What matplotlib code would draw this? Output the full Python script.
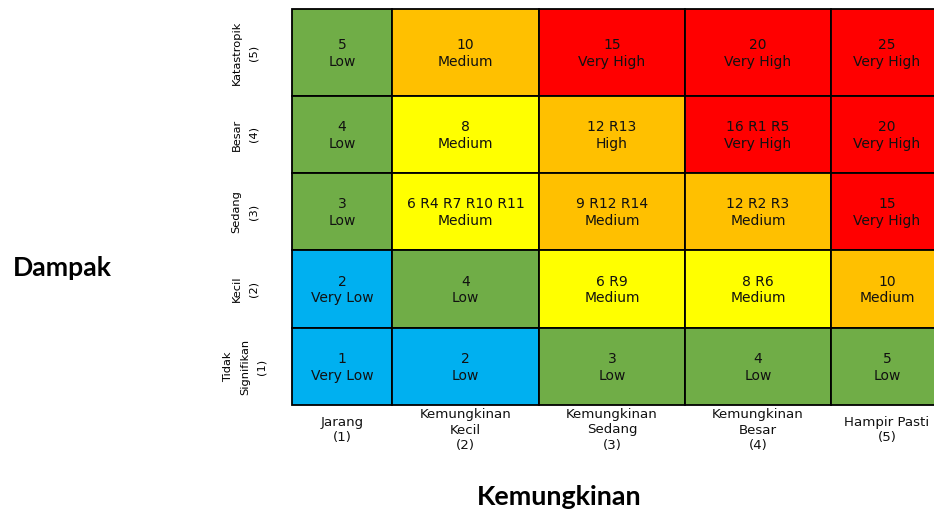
import matplotlib
matplotlib.use("Agg")
import matplotlib.pyplot as plt
from matplotlib.patches import Rectangle
from matplotlib import font_manager

# impact rows (top to bottom) and likelihood columns (left to right)
impact_labels = ["Katastropik\n(5)", "Besar\n(4)", "Sedang\n(3)", "Kecil\n(2)",
                 "Tidak\nSignifikan\n(1)"]
impact_scores = [5, 4, 3, 2, 1]
likelihood_labels = ["Jarang\n(1)", "Kemungkinan\nKecil\n(2)", "Kemungkinan\nSedang\n(3)",
                     "Kemungkinan\nBesar\n(4)", "Hampir Pasti\n(5)"]
likelihood_scores = [1, 2, 3, 4, 5]

risks = [
    ["", "", "", "", ""],
    ["", "", "R13", "R1 R5", ""],
    ["", "R4 R7 R10 R11", "R12 R14", "R2 R3", ""],
    ["", "", "R9", "R6", ""],
    ["", "", "", "", ""],
]
levels = [
    ["Low", "Medium", "Very High", "Very High", "Very High"],
    ["Low", "Medium", "High", "Very High", "Very High"],
    ["Low", "Medium", "Medium", "Medium", "Very High"],
    ["Very Low", "Low", "Medium", "Medium", "Medium"],
    ["Very Low", "Low", "Low", "Low", "Low"],
]
shades = [
    ["G", "O", "R", "R", "R"],
    ["G", "Y", "O", "R", "R"],
    ["G", "Y", "O", "O", "R"],
    ["B", "G", "Y", "Y", "O"],
    ["B", "B", "G", "G", "G"],
]
palette = {"B": "#00B0F0", "G": "#70AD47", "Y": "#FFFF00", "O": "#FFC000", "R": "#FF0000"}

# layout in pixels
col_edges = [292, 392, 539, 685, 831, 943]
row_edges = [9, 96, 173, 250, 328, 405]

# narrow font for the rotated impact labels, if there is one
installed = {f.name for f in font_manager.fontManager.ttflist}
narrow = [n for n in ["Liberation Sans Narrow", "DejaVu Sans Condensed"] if n in installed]
narrow_size = 10 if narrow else 8.2
narrow = narrow + ["DejaVu Sans"]

fig = plt.figure(figsize=(9.34, 5.13), dpi=100)
ax = fig.add_axes([0, 0, 1, 1])
ax.set_xlim(0, 934)
ax.set_ylim(513, 0)
ax.axis("off")

cell_font = "DejaVu Sans"
for i, imp in enumerate(impact_scores):
    y0, y1 = row_edges[i], row_edges[i + 1]
    for j, lik in enumerate(likelihood_scores):
        x0, x1 = col_edges[j], col_edges[j + 1]
        ax.add_patch(Rectangle((x0, y0), x1 - x0, y1 - y0,
                               facecolor=palette[shades[i][j]], edgecolor="black", lw=1.3))
        head = str(imp * lik)
        if risks[i][j]:
            head += " " + risks[i][j]
        ax.text((x0 + x1) / 2, (y0 + y1) / 2 + 1, head + "\n" + levels[i][j], ha="center",
                va="center", fontsize=10, family=cell_font, color="#111111", linespacing=1.25)
    ax.text(245, (y0 + y1) / 2, impact_labels[i], rotation=90, ha="center", va="center",
            fontsize=narrow_size, family=narrow, linespacing=1.85)

for j in range(5):
    cx = (col_edges[j] + col_edges[j + 1]) / 2
    ax.text(cx, 430, likelihood_labels[j], ha="center", va="center",
            fontsize=9.6, family=cell_font, color="#111111", linespacing=1.25)

ax.text(62, 268, "Dampak", ha="center", va="center", fontsize=19.2,
        family="Lato", fontweight="bold")
ax.text(559, 497, "Kemungkinan", ha="center", va="center", fontsize=19.4,
        family="Lato", fontweight="bold")

fig.savefig("out.png", dpi=100)
